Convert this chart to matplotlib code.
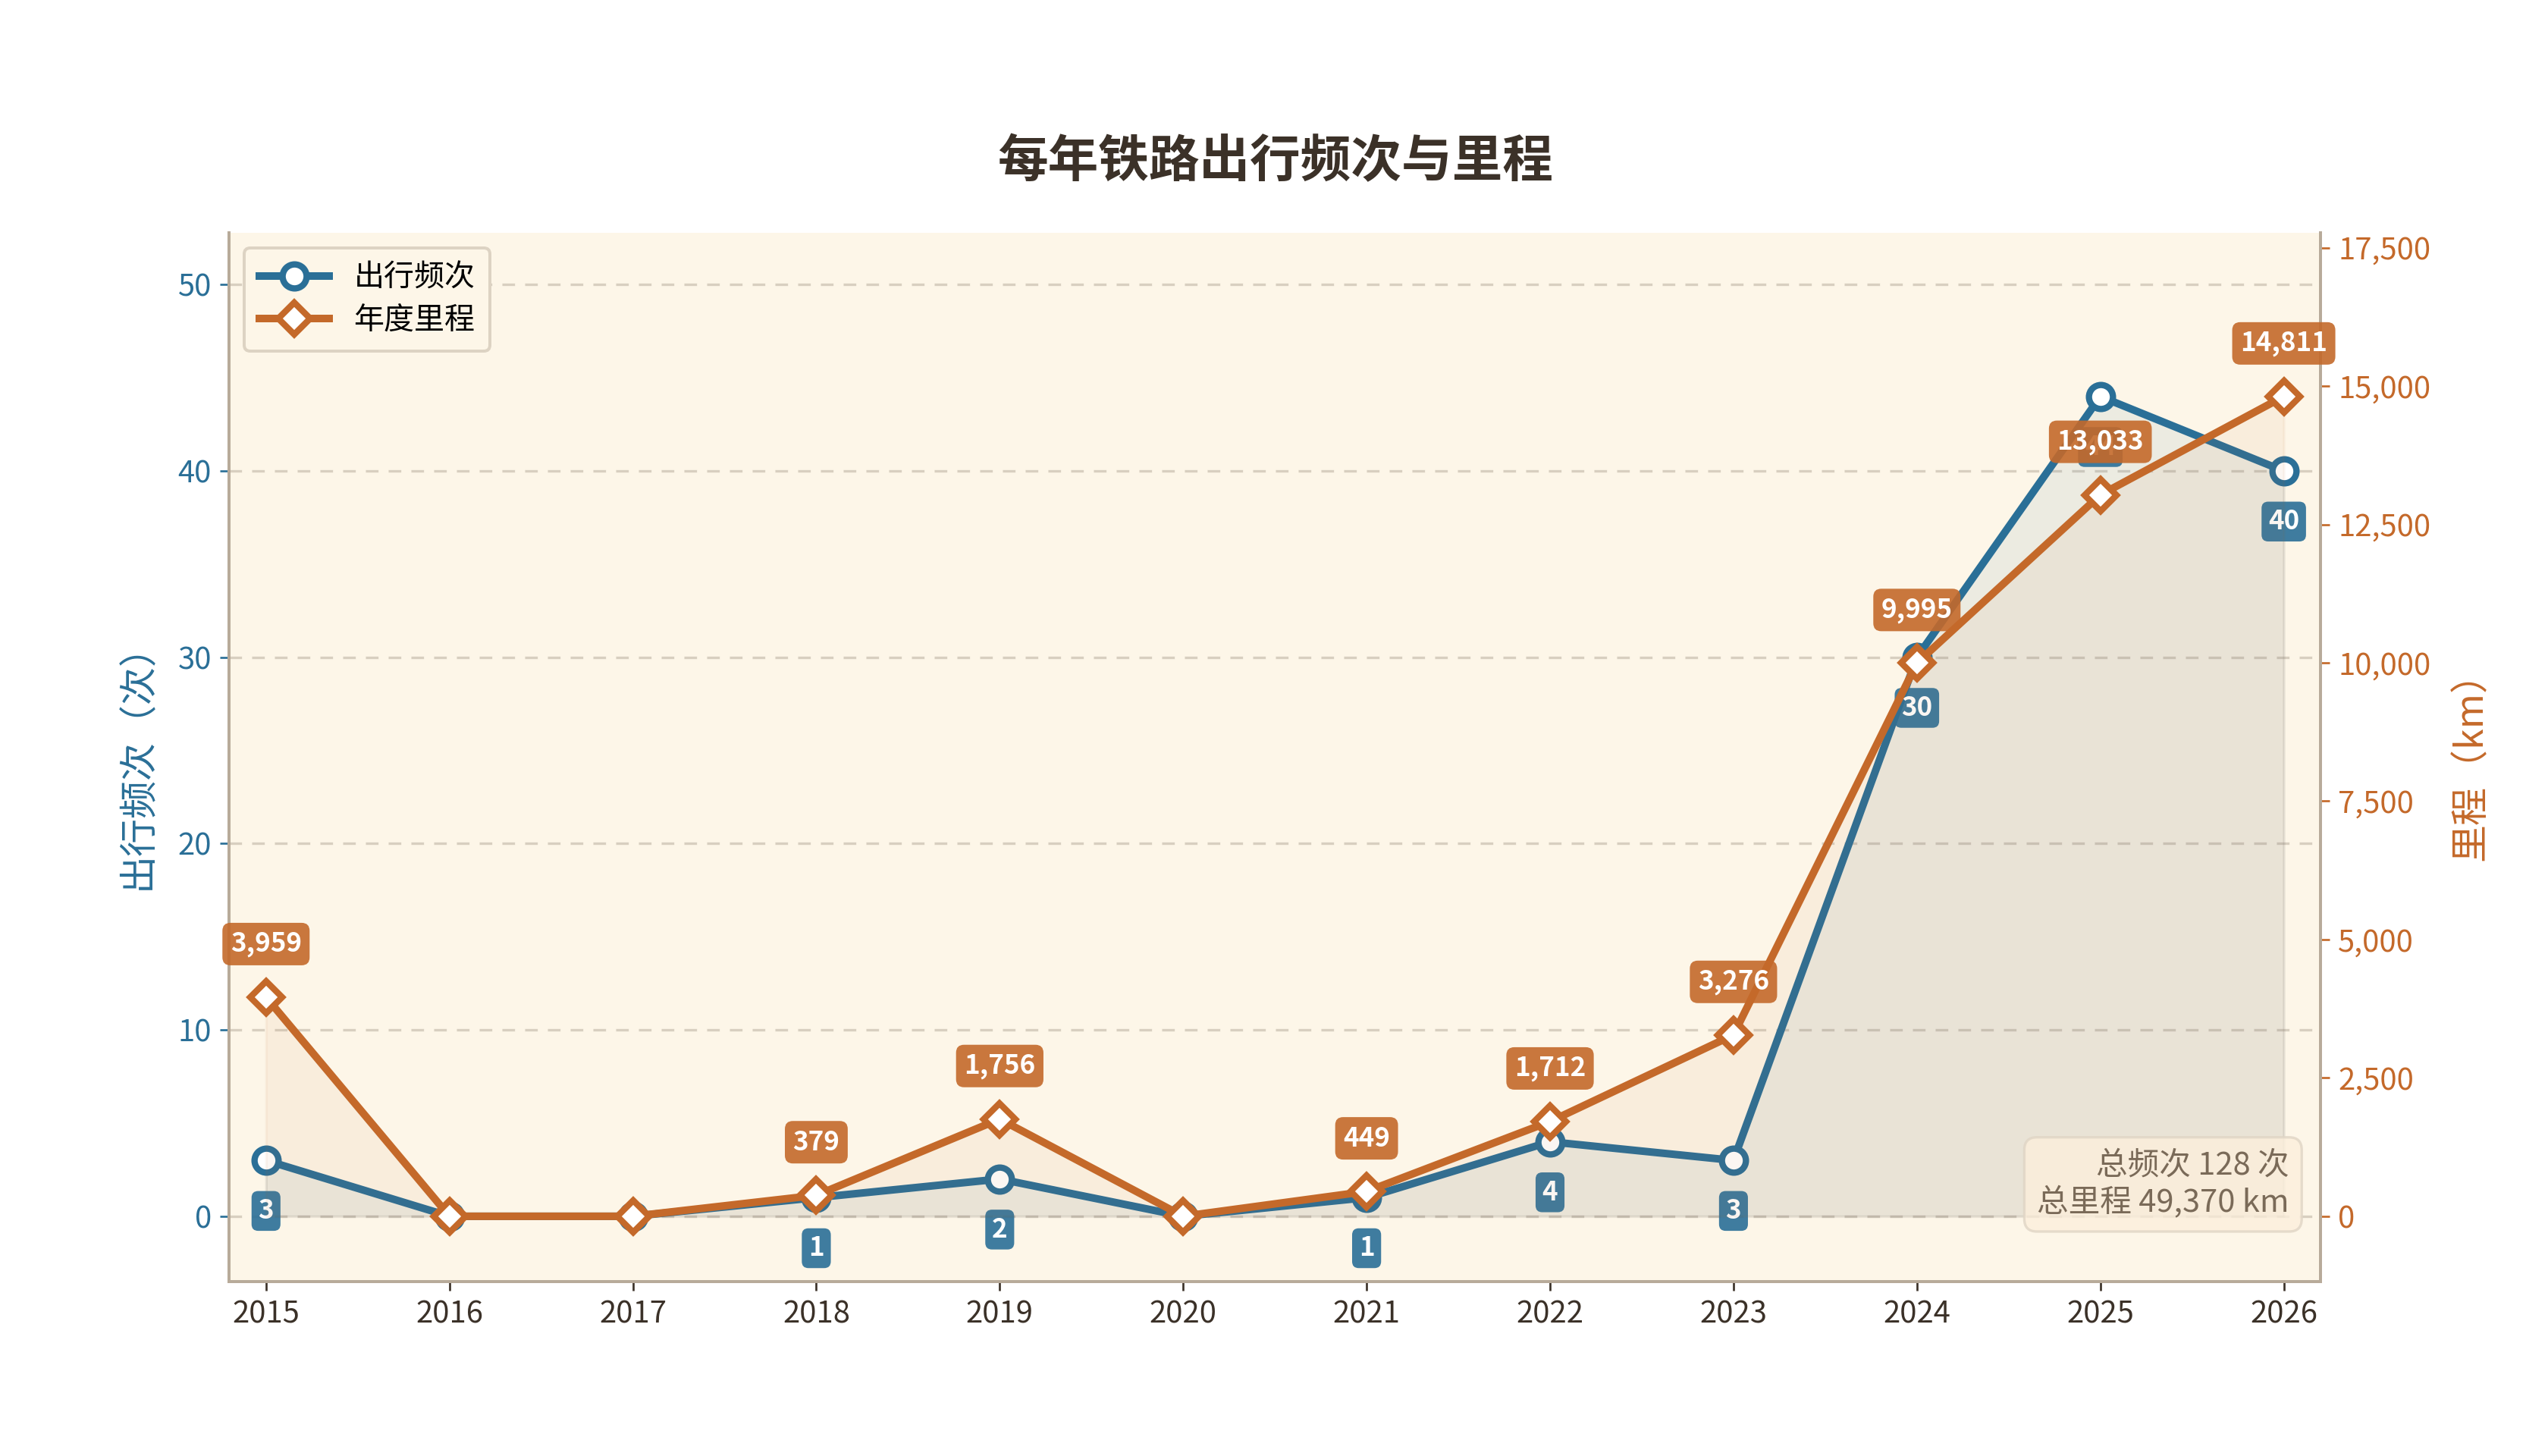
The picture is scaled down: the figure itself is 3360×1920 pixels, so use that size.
import matplotlib
matplotlib.use('Agg')
import matplotlib.pyplot as plt
from matplotlib.ticker import FuncFormatter

plt.rcParams['font.family'] = ['Noto Sans CJK SC', 'DejaVu Sans']

years = [2015, 2016, 2017, 2018, 2019, 2020, 2021, 2022, 2023, 2024, 2025, 2026]
trips = [3, 0, 0, 1, 2, 0, 1, 4, 3, 30, 44, 40]
km = [3959, 0, 0, 379, 1756, 0, 449, 1712, 3276, 9995, 13033, 14811]

blue = '#2a6f97'
orange = '#c4692a'
cream = '#fdf6e8'
spine_c = '#b8ab9a'
dark = '#3b3128'

fig = plt.figure(figsize=(14, 8), dpi=240)
ax = fig.add_axes([0.090, 0.1196, 0.8207, 0.7207])
ax.set_facecolor(cream)
ax2 = ax.twinx()

# left axis: trips
ax.fill_between(years, trips, 0, color=blue, alpha=0.08, zorder=1)
ax.plot(years, trips, color=blue, lw=3, marker='o', ms=9.5,
        mfc='white', mec=blue, mew=2.5, label='出行频次', zorder=3)
for x, v in zip(years, trips):
    if v == 0:
        continue
    ax.annotate(str(v), (x, v), xytext=(0, -20), textcoords='offset points',
                ha='center', va='center', fontsize=10.5, fontweight='bold', color='white',
                bbox=dict(boxstyle='round,pad=0.25', fc=blue, ec='none', alpha=0.9),
                zorder=4)

# right axis: km
ax2.fill_between(years, km, 0, color=orange, alpha=0.06, zorder=1)
ax2.plot(years, km, color=orange, lw=3, marker='D', ms=9,
         mfc='white', mec=orange, mew=2.5, label='年度里程', zorder=3)
for x, v in zip(years, km):
    if v == 0:
        continue
    ax2.annotate(f'{v:,}', (x, v), xytext=(0, 21), textcoords='offset points',
                 ha='center', va='center', fontsize=10.5, fontweight='bold', color='white',
                 bbox=dict(boxstyle='round,pad=0.3', fc=orange, ec='none', alpha=0.9),
                 zorder=4)

tmax = max(trips)
kmax = max(km)
ax.set_ylim(-tmax * 0.08, tmax * 1.2)
ax2.set_ylim(-kmax * 0.08, kmax * 1.2)
ax.set_xlim(2014.8, 2026.2)
ax.set_xticks(years)
ax.set_yticks(range(0, 51, 10))
ax2.set_yticks(range(0, 17501, 2500))
ax2.yaxis.set_major_formatter(FuncFormatter(lambda v, p: f'{int(v):,}'))

ax.grid(axis='y', ls='--', color='#d8cfc0', lw=1.0, dashes=(5, 4))
ax.set_axisbelow(True)

for a in (ax, ax2):
    a.spines['top'].set_visible(False)
    for s in ('left', 'right', 'bottom'):
        a.spines[s].set_color(spine_c)
        a.spines[s].set_linewidth(1.2)

ax.tick_params(axis='y', colors=blue, labelsize=12)
ax.tick_params(axis='x', colors=dark, labelsize=12)
ax2.tick_params(axis='y', colors=orange, labelsize=12)

ax.set_ylabel('出行频次（次）', color=blue, fontsize=15, labelpad=8)
ax2.set_ylabel('里程（km）', color=orange, fontsize=15, labelpad=8)
ax.set_title('每年铁路出行频次与里程', fontsize=20, fontweight='bold', color=dark, pad=22)

h1, l1 = ax.get_legend_handles_labels()
h2, l2 = ax2.get_legend_handles_labels()
leg = ax2.legend(h1 + h2, l1 + l2, loc='upper left', fontsize=12, frameon=True,
                 facecolor=cream, edgecolor='#ddd3c3', framealpha=1.0,
                 handlelength=2.3, borderpad=0.5, labelspacing=0.4)
leg.get_frame().set_linewidth(1.2)

ax2.text(0.985, 0.06, f'总频次 {sum(trips)} 次\n总里程 {sum(km):,} km',
         transform=ax2.transAxes, ha='right', va='bottom', fontsize=12.5,
         color='#7a6a58', linespacing=1.2,
         bbox=dict(boxstyle='round,pad=0.4', fc='#fcefdc', ec='#e0d5c5', alpha=0.8),
         zorder=5)

fig.savefig('out.png', dpi=240)
